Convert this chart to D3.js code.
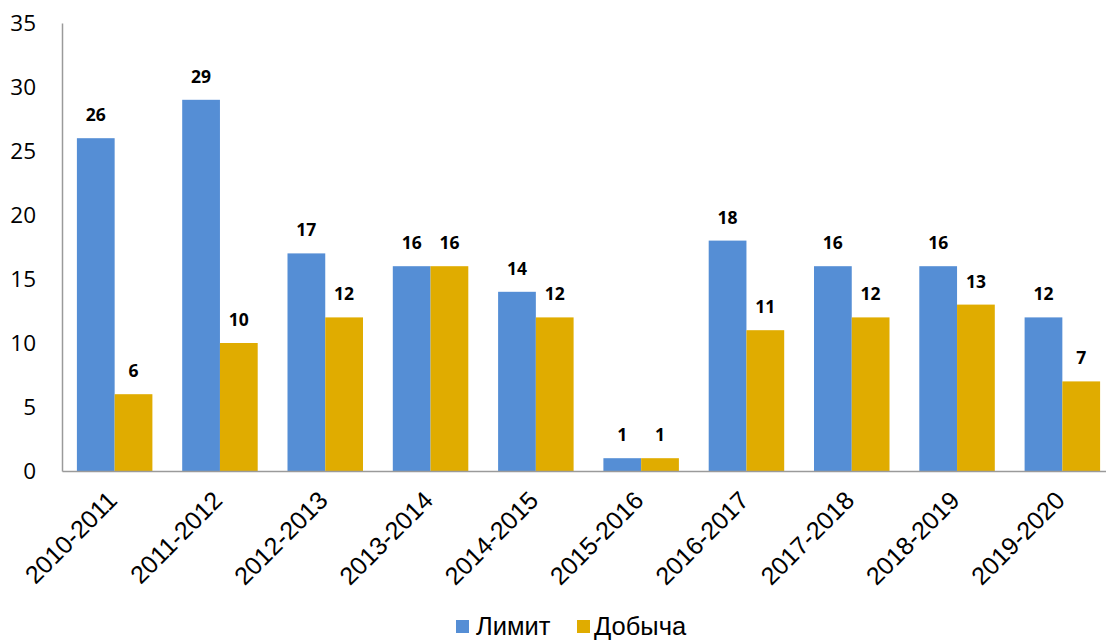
<!DOCTYPE html>
<html>
<head>
<meta charset="utf-8">
<script src="https://cdn.jsdelivr.net/npm/d3@7/dist/d3.min.js"></script>
<style>
  body { margin: 0; background: #fff; }
  svg { display: block; }
</style>
</head>
<body>
<div id="chart"></div>
<script>
const seasons = ["2010-2011", "2011-2012", "2012-2013", "2013-2014", "2014-2015",
                 "2015-2016", "2016-2017", "2017-2018", "2018-2019", "2019-2020"];
const limitValues = [26, 29, 17, 16, 14, 1, 18, 16, 16, 12];
const catchValues = [6, 10, 12, 16, 12, 1, 11, 12, 13, 7];
const seriesNames = ["Лимит", "Добыча"];
const seriesColors = ["#558ed5", "#e0ac00"];
const yTicks = [0, 5, 10, 15, 20, 25, 30, 35];

const W = 1106, H = 641;
const margin = { top: 23, right: -9, bottom: 170, left: 62 };
const width = W - margin.left - margin.right;
const height = H - margin.top - margin.bottom;

const svg = d3.select("#chart").append("svg")
  .attr("width", W)
  .attr("height", H);

const g = svg.append("g")
  .attr("transform", `translate(${margin.left}, ${margin.top})`);

const x = d3.scaleBand()
  .domain(seasons)
  .range([0, width])
  .paddingInner(0.283)
  .paddingOuter(0.1415);

const xSub = d3.scaleBand()
  .domain([0, 1])
  .range([0, x.bandwidth()]);

const y = d3.scaleLinear()
  .domain([0, 35])
  .range([height, 0]);

const rows = seasons.map((s, i) => ({ season: s, values: [limitValues[i], catchValues[i]] }));

// bars
const groups = g.selectAll(".grp")
  .data(rows)
  .enter().append("g")
  .attr("transform", d => `translate(${x(d.season)}, 0)`);

groups.selectAll("rect")
  .data(d => d.values.map((v, k) => ({ v, k })))
  .enter().append("rect")
  .attr("x", d => xSub(d.k))
  .attr("y", d => y(d.v))
  .attr("width", xSub.bandwidth())
  .attr("height", d => height - y(d.v))
  .attr("fill", d => seriesColors[d.k]);

groups.selectAll("text.val")
  .data(d => d.values.map((v, k) => ({ v, k })))
  .enter().append("text")
  .attr("class", "val")
  .attr("x", d => xSub(d.k) + xSub.bandwidth() / 2)
  .attr("y", d => y(d.v) - 17)
  .attr("text-anchor", "middle")
  .style("font-family", "'Open Sans', sans-serif")
  .style("font-weight", "bold")
  .style("font-size", "17.5px")
  .text(d => d.v);

// y axis
const yAxis = g.append("g")
  .call(d3.axisLeft(y).tickValues(yTicks).tickSize(0).tickPadding(26));
yAxis.select(".domain").attr("stroke", "#9a9a9a").attr("stroke-width", 1.5);
yAxis.selectAll("text")
  .style("font-family", "'Open Sans', sans-serif")
  .style("font-size", "22.5px")
  .attr("fill", "#000");

// x axis
const xAxis = g.append("g")
  .attr("transform", `translate(0, ${height})`)
  .call(d3.axisBottom(x).tickSize(0));
xAxis.select(".domain").attr("stroke", "#9a9a9a").attr("stroke-width", 1.5);
xAxis.selectAll("text")
  .style("font-family", "'Liberation Sans', Arial, sans-serif")
  .style("font-size", "25px")
  .attr("fill", "#000")
  .attr("text-anchor", "end")
  .attr("y", 0)
  .attr("dy", 0)
  .attr("transform", "translate(4, 31) rotate(-45)");

// legend
const legend = svg.append("g")
  .attr("transform", "translate(456, 635)");
const legendX = [0, 121];
seriesNames.forEach((name, i) => {
  const item = legend.append("g").attr("transform", `translate(${legendX[i]}, 0)`);
  item.append("rect")
    .attr("x", 0).attr("y", -15)
    .attr("width", 13).attr("height", 13)
    .attr("fill", seriesColors[i]);
  item.append("text")
    .attr("x", i === 0 ? 20 : 17).attr("y", 0)
    .style("font-family", "'Liberation Sans', Arial, sans-serif")
    .style("font-size", "25.5px")
    .text(name);
});
</script>
</body>
</html>
